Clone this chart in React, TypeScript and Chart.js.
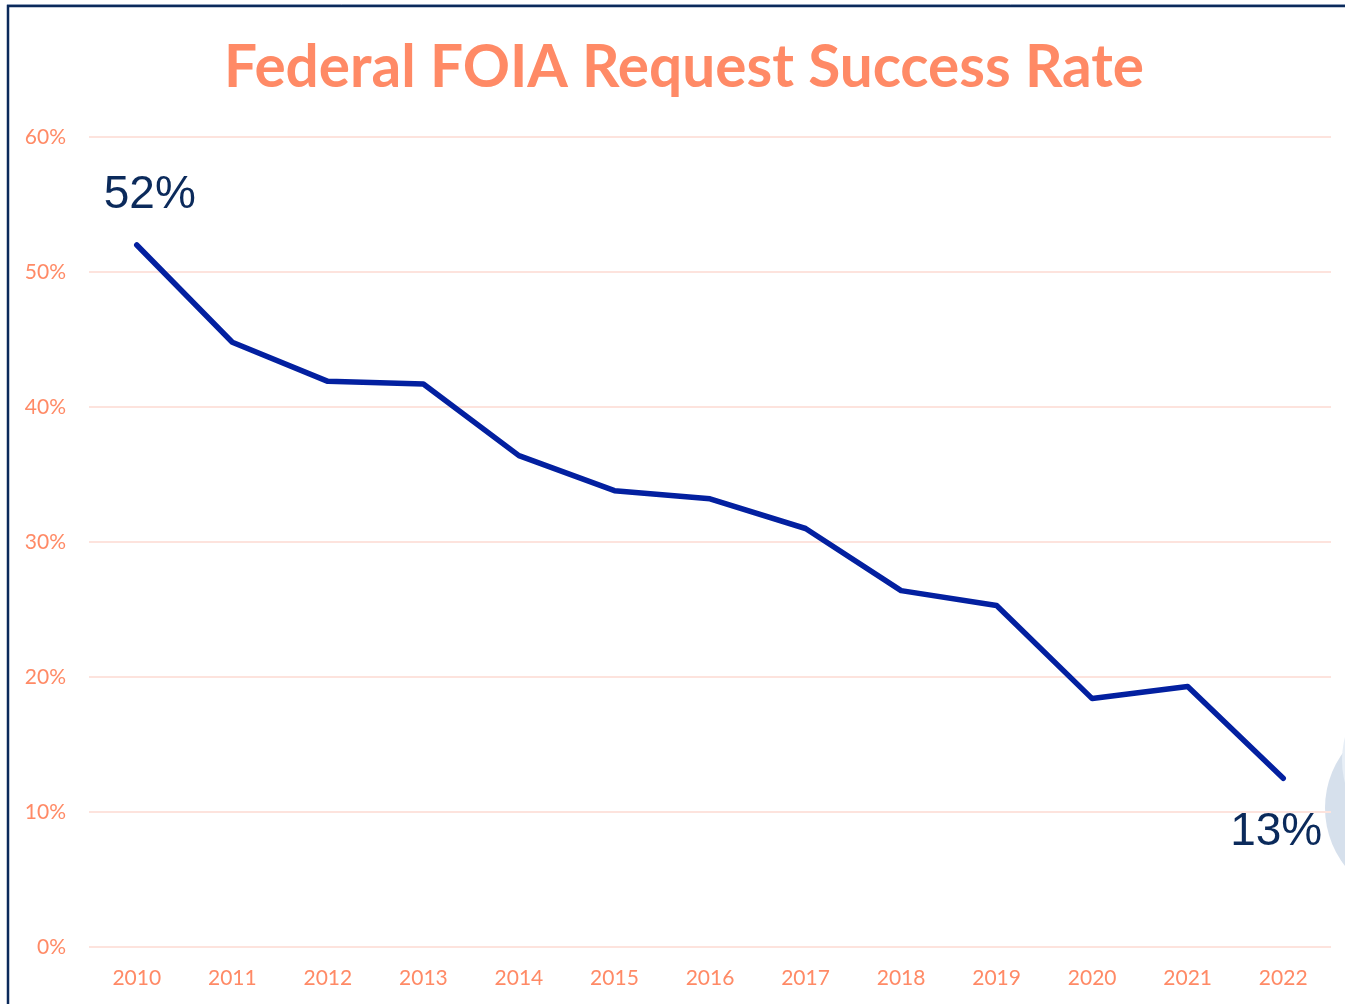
import React, { useEffect, useRef } from "react";
import { Chart, registerables } from "chart.js";

Chart.register(...registerables);

const TITLE = "Federal FOIA Request Success Rate";
const years = ["2010", "2011", "2012", "2013", "2014", "2015", "2016", "2017", "2018", "2019", "2020", "2021", "2022"];
const successRate = [52, 44.8, 41.9, 41.7, 36.4, 33.8, 33.2, 31.0, 26.4, 25.3, 18.4, 19.3, 12.5];
const yTickValues = [0, 10, 20, 30, 40, 50, 60];
const calloutIndex = [0, 12];
const calloutText = ["52%", "13%"];

const SALMON = "#FF8A66";
const NAVY = "#0B2A5B";
const LINE = "#0320A0";
const GRID = "#FDE3DD";

const decorPlugin = {
  id: "decor",
  beforeDraw(chart: any) {
    const ctx = chart.ctx;
    ctx.save();
    ctx.fillStyle = "#ffffff";
    ctx.fillRect(0, 0, chart.width, chart.height);
    // frame
    ctx.strokeStyle = "#B8C4D8";
    ctx.lineWidth = 1;
    ctx.beginPath();
    ctx.moveTo(7, 4.5);
    ctx.lineTo(chart.width, 4.5);
    ctx.stroke();
    ctx.strokeStyle = NAVY;
    ctx.lineWidth = 2.5;
    ctx.beginPath();
    ctx.moveTo(8, chart.height);
    ctx.lineTo(8, 6);
    ctx.lineTo(chart.width, 6);
    ctx.stroke();
    // decorative circle at right edge
    ctx.fillStyle = "#D6E0EC";
    ctx.beginPath();
    ctx.arc(1419, 808, 94, 0, Math.PI * 2);
    ctx.fill();
    ctx.fillStyle = "#E7EEF6";
    ctx.beginPath();
    ctx.arc(1432, 760, 90, 0, Math.PI * 2);
    ctx.fill();
    // title
    ctx.fillStyle = SALMON;
    ctx.font = "bold 58.5px Lato";
    ctx.textAlign = "center";
    ctx.textBaseline = "alphabetic";
    ctx.fillText(TITLE, 684, 87);
    ctx.restore();
  },
  afterDatasetsDraw(chart: any) {
    const ctx = chart.ctx;
    const meta = chart.getDatasetMeta(0);
    ctx.save();
    ctx.fillStyle = NAVY;
    ctx.font = "46px 'Liberation Sans', Arial, sans-serif";
    ctx.textAlign = "center";
    ctx.textBaseline = "alphabetic";
    calloutIndex.forEach((idx, i) => {
      const pt = meta.data[idx];
      if (!pt) return;
      const below = i === calloutIndex.length - 1;
      const dx = below ? -7 : 13;
      const dy = below ? 67 : -37;
      ctx.fillText(calloutText[i], pt.x + dx, pt.y + dy);
    });
    ctx.restore();
  },
};

export default function App() {
  const ref = useRef<HTMLCanvasElement | null>(null);
  useEffect(() => {
    if (!ref.current) return;
    const chart = new Chart(ref.current, {
      type: "line",
      data: {
        labels: years,
        datasets: [
          {
            label: "Success rate",
            data: successRate,
            borderColor: LINE,
            borderWidth: 5.5,
            pointRadius: 0,
            tension: 0,
            borderCapStyle: "round",
            borderJoinStyle: "round",
            fill: false,
          },
        ],
      },
      options: {
        responsive: false,
        animation: false,
        layout: { padding: { top: 137, right: 14, left: 0, bottom: 0 } },
        plugins: {
          legend: { display: false },
          title: { display: false },
          tooltip: { enabled: false },
        },
        scales: {
          x: {
            offset: true,
            grid: { display: false, drawTicks: false },
            border: { display: false },
            ticks: {
              color: SALMON,
              font: { family: "Lato", size: 21 },
              padding: 19,
              maxRotation: 0,
            },
            afterFit(scale: any) {
              scale.height = 57;
            },
          },
          y: {
            min: 0,
            max: 60,
            grid: { color: GRID, lineWidth: 2, drawTicks: false },
            border: { display: false },
            afterBuildTicks(scale: any) {
              scale.ticks = yTickValues.map((v) => ({ value: v }));
            },
            ticks: {
              color: SALMON,
              font: { family: "Lato", size: 21 },
              padding: 23,
              callback: (v: any) => v + "%",
            },
            afterFit(scale: any) {
              scale.width = 89;
            },
          },
        },
      },
      plugins: [decorPlugin],
    });
    return () => chart.destroy();
  }, []);
  return (
    <div style={{ position: "fixed", left: 0, top: 0, width: 1345, height: 1004, overflow: "hidden", background: "#fff" }}>
      <canvas ref={ref} width={1345} height={1004} style={{ display: "block" }} />
    </div>
  );
}
